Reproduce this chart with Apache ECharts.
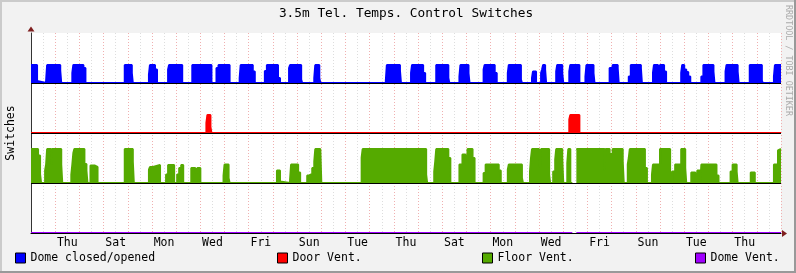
<!DOCTYPE html>
<html>
<head>
<meta charset="utf-8">
<script src="https://cdn.jsdelivr.net/npm/echarts@6/dist/echarts.min.js"></script>
<style>
html,body{margin:0;padding:0;background:#F2F2F2;}
#chart{width:796px;height:273px;}
</style>
</head>
<body>
<div id="chart"></div>
<script>
// ---- data (x = hours since Wed 00:00, y = level within band) ----
const dayLabels = ['Thu','Sat','Mon','Wed','Fri','Sun','Tue','Thu','Sat','Mon','Wed','Fri','Sun','Tue','Thu'];
const labelHours = [36,84,132,180,228,276,324,372,420,468,516,564,612,660,708];
const seriesNames = ['Dome closed/opened','Door Vent.','Floor Vent.','Dome Vent.'];

const domeData = [
[0,0.36],[6,0.04],[7,0],
[15,0.05],[16,0.36],[29,0.25],[30,0],
[41,0.2],[42,0.36],[52,0.3],[54,0],
[93,0.36],[100,0.2],[101,0],
[117,0.17],[118,0.36],[123,0.27],[125,0],
[136,0.27],[137,0.36],[150,0],
[160,0.36],[179,0],
[184,0.3],[186,0.36],[197,0],
[207,0.1],[208,0.36],[220,0.23],[222,0],
[232,0.24],[234,0.36],[245,0.1],[247,0],
[256,0.3],[257,0.36],[268,0.07],[269,0],
[281,0.1],[282,0.36],[286,0.1],[287,0],
[352,0.05],[353,0.36],[366,0.25],[367,0],
[377,0.2],[378,0.36],[389,0.2],[391,0],
[402,0.36],[414,0.1],[415,0],
[425,0.13],[426,0.36],[434,0.2],[435,0],
[449,0.27],[450,0.36],[460,0.2],[462,0],
[473,0.2],[474,0.36],[486,0.07],[487,0],
[497,0.1],[498,0.23],[501,0],
[506,0.2],[507,0.27],[508,0.36],[510,0.27],[511,0],
[521,0.23],[522,0.36],[527,0.2],[528,0],
[534,0.23],[535,0.36],[544,0],
[550,0.13],[551,0.36],[558,0.2],[559,0],
[574,0.3],[577,0.36],[582,0.3],[583,0],
[593,0.13],[595,0.36],[605,0.3],[606,0],
[617,0.2],[618,0.36],[622,0],[623,0.3],[624,0.36],[628,0.23],[630,0],
[645,0.2],[646,0.36],[648,0.27],[650,0.22],[652,0.13],[654,0],
[665,0.13],[667,0.36],[677,0.23],[678,0],
[689,0.23],[690,0.36],[701,0.23],[702,0],
[713,0.36],[725,0.05],[726,0],
[737,0.13],[738,0.36],[744,0.36]
];

const doorData = [
[0,0],[174,0.2],[175,0.36],[178,0.12],[179,0],
[534,0.27],[535,0.36],[544,0],[744,0]
];

const floorData = [
[0,0.68],[7,0.55],[9,0.18],[10,0],
[14,0.25],[15,0.37],[16,0.68],[20,0.37],[21,0.68],[30,0.37],[31,0],
[40,0.17],[41,0.37],[42,0.6],[43,0.68],[53,0.38],[55,0.25],[56,0],
[59,0.35],[63,0.32],[66,0],
[93,0.68],[101,0.43],[102,0],
[117,0.27],[118,0.32],[121,0.36],[128,0],
[134,0.17],[136,0.36],[142,0],[145,0.17],[147,0.3],[149,0.36],[151,0],
[159,0.3],[163,0.2],[165,0.3],[168,0],
[191,0.15],[192,0.37],[196,0.1],[197,0],
[244,0.25],[247,0.03],[248,0],
[257,0.07],[258,0.37],[265,0.21],[267,0],
[274,0.15],[276,0.18],[279,0.3],[281,0.43],[282,0.68],[287,0.65],[288,0],
[328,0.51],[329,0.68],[392,0.17],[393,0],
[400,0.23],[401,0.43],[402,0.68],[414,0.5],[416,0],
[425,0.37],[428,0.57],[431,0.37],[433,0.68],[438,0.5],[440,0],
[449,0.2],[451,0.37],[464,0.25],[466,0],
[473,0.27],[474,0.37],[487,0.1],[488,0],
[495,0.23],[496,0.5],[497,0.68],[504,0.57],[505,0.3],[506,0.68],[514,0.17],[515,0],
[518,0.23],[520,0.47],[521,0.68],[527,0.5],[528,0],
[532,0.4],[533,0.68],[535,0],[536,0],[537,'-'],[541,0.68],
[569,0.25],[570,0.68],[574,0.58],[577,0.68],[587,0.43],[588,0],
[592,0.37],[593,0.5],[594,0.68],[609,0.3],[611,0],
[616,0.17],[617,0.37],[624,0.68],[634,0.05],[636,0.23],[639,0.37],[645,0.68],[649,0.3],[650,0],
[655,0.21],[659,0],[661,0.25],[664,0],[665,0.37],[680,0.15],[682,0],
[694,0.23],[696,0.37],[700,0.23],[701,0],
[714,0.21],[718,0],[737,0.37],[741,0.65],[742,0.68],[744,0.68]
];

const ventData = [[0,0],[536,0],[537,'-'],[541,0],[744,0]];

// ---- styling / layout ----
const colors = ['#0000FF','#FF0000','#55AA00','#A000FF'];
const bandBase = [3,2,1,0];
const FONT = 'DejaVu Sans Mono';

function shift(data, base){
  return data.map(p => [p[0], p[1] === '-' ? '-' : p[1] + base]);
}

const allData = [domeData, doorData, floorData, ventData];
const series = allData.map((d, i) => {
  const s = {
    name: seriesNames[i],
    type: 'line',
    step: 'end',
    showSymbol: false,
    symbol: 'none',
    connectNulls: false,
    color: colors[i],
    itemStyle: {color: colors[i]},
    lineStyle: {color: colors[i], width: 2},
    data: shift(d, bandBase[i]),
    silent: true
  };
  if (i < 3) s.areaStyle = {color: colors[i], opacity: 1, origin: bandBase[i]};
  return s;
});
series[3].markLine = {
  silent: true, symbol: 'none', z: 5, animation: false,
  label: {show: false},
  lineStyle: {color: '#000', width: 1, type: 'solid'},
  data: [{yAxis: 3}, {yAxis: 2}, {yAxis: 1}, {yAxis: 0}]
};

const legendLefts = [15, 277, 482, 695];
const legends = seriesNames.map((n, i) => ({
  data: [n], left: legendLefts[i], top: 252, padding: 0,
  icon: 'rect', itemWidth: 10, itemHeight: 10, selectedMode: false,
  itemStyle: {borderColor: '#000', borderWidth: 1},
  textStyle: {fontFamily: FONT, fontSize: 11.5, color: '#000'}
}));

const chart = echarts.init(document.getElementById('chart'), null, {renderer: 'canvas'});
chart.setOption({
  animation: false,
  backgroundColor: '#F2F2F2',
  title: {
    text: '3.5m Tel. Temps. Control Switches',
    left: 406, top: 7, textAlign: 'center', padding: 0,
    textStyle: {fontFamily: FONT, fontSize: 12.8, fontWeight: 'normal', color: '#000'}
  },
  legend: legends,
  grid: {left: 31, top: 33, width: 750, height: 200, show: true, backgroundColor: '#FFFFFF', borderWidth: 0,
         containLabel: false, outerBoundsMode: 'none'},
  xAxis: {
    type: 'value', min: 0, max: 744, interval: 12,
    axisLine: {show: true, lineStyle: {color: '#000', width: 1}},
    axisTick: {show: false},
    axisLabel: {
      fontFamily: FONT, fontSize: 11.5, color: '#000', margin: 4,
      showMinLabel: true, showMaxLabel: true,
      formatter: v => { const k = labelHours.indexOf(v); return k >= 0 ? dayLabels[k] : ''; }
    },
    splitLine: {show: true, lineStyle: {color: ['#F0B0B0', '#DDDDDD'], width: 1, type: [1, 2]}}
  },
  yAxis: {
    type: 'value', min: 0, max: 4, interval: 1,
    name: 'Switches', nameLocation: 'middle', nameRotate: 90, nameGap: 14,
    nameTextStyle: {fontFamily: FONT, fontSize: 11.5, color: '#000'},
    axisLine: {show: true, lineStyle: {color: '#333', width: 1}},
    axisTick: {show: false},
    axisLabel: {show: false},
    splitLine: {show: false}
  },
  graphic: [
    {type: 'rect', shape: {x: 0, y: 0, width: 796, height: 2}, style: {fill: '#CBCBCB'}, silent: true},
    {type: 'rect', shape: {x: 0, y: 0, width: 2, height: 273}, style: {fill: '#CBCBCB'}, silent: true},
    {type: 'rect', shape: {x: 0, y: 271, width: 796, height: 2}, style: {fill: '#999999'}, silent: true},
    {type: 'rect', shape: {x: 794, y: 0, width: 2, height: 273}, style: {fill: '#999999'}, silent: true},
    {type: 'polygon', shape: {points: [[27.5, 31.5], [31, 26.5], [34.5, 31.5]]}, style: {fill: '#7F1F1F'}, silent: true, z: 10},
    {type: 'polygon', shape: {points: [[782, 230], [787, 233.5], [782, 237]]}, style: {fill: '#7F1F1F'}, silent: true, z: 10},
    {type: 'text', x: 788, y: 5, rotation: -Math.PI / 2, silent: true,
     style: {text: 'RRDTOOL / TOBI OETIKER', font: '8.4px "DejaVu Sans Mono"', fill: '#ABABAB', textAlign: 'left', textVerticalAlign: 'middle'}}
  ],
  series: series
});
</script>
</body>
</html>
